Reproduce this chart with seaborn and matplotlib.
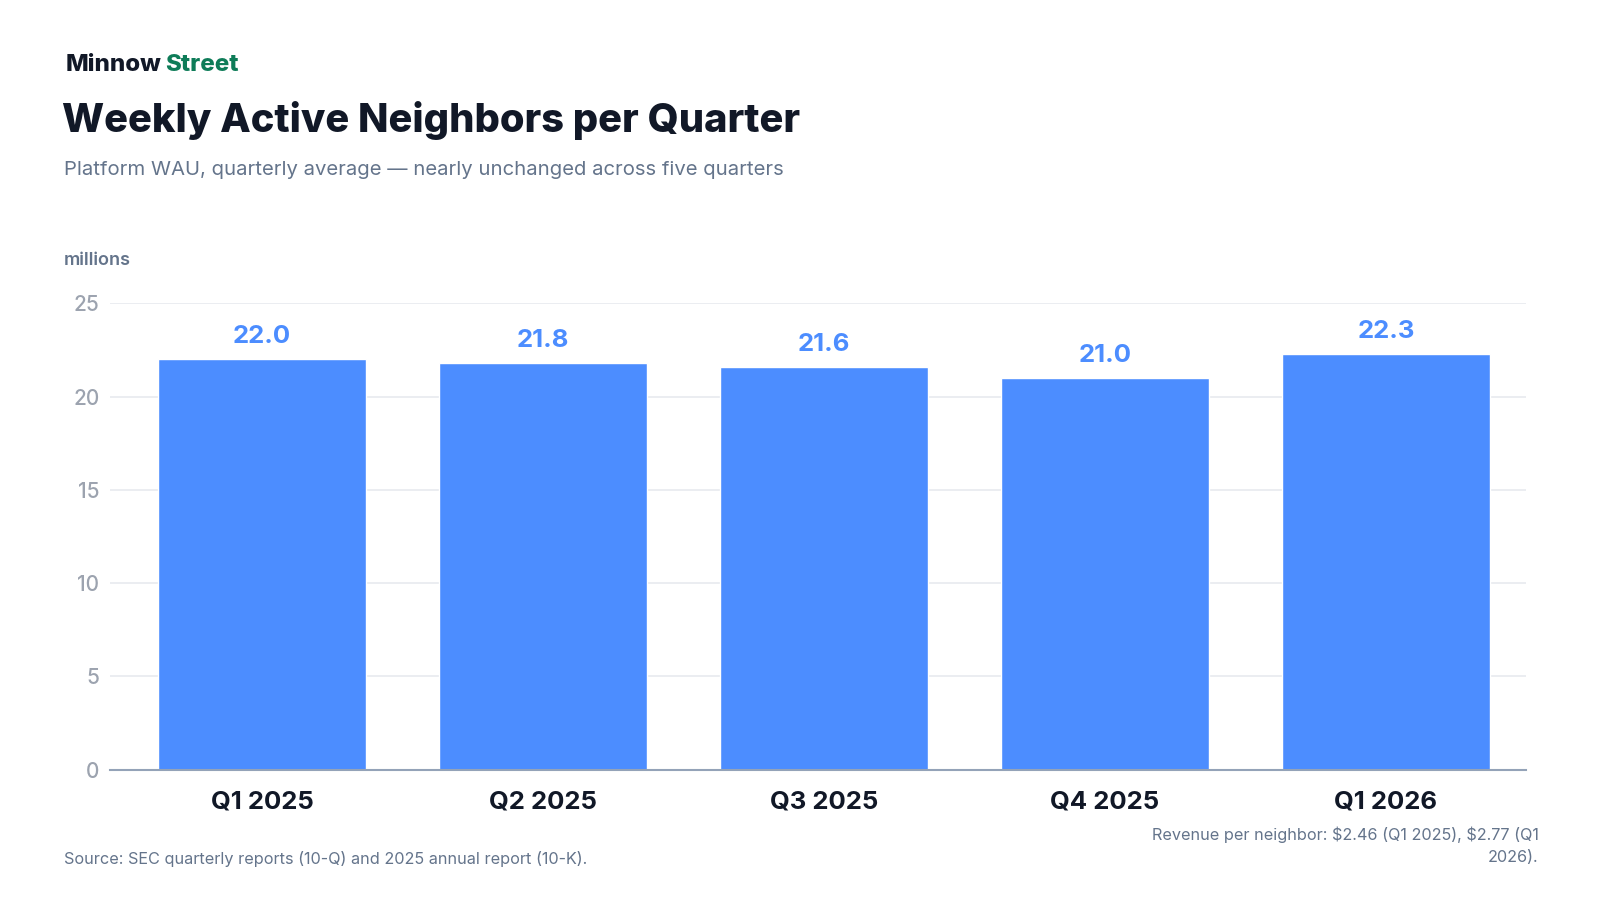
import matplotlib
matplotlib.use("Agg")
import matplotlib.pyplot as plt
import seaborn as sns
import pandas as pd

# data
quarters = ["Q1 2025", "Q2 2025", "Q3 2025", "Q4 2025", "Q1 2026"]
wau_millions = [22.0, 21.8, 21.6, 21.0, 22.3]
y_ticks = [0, 5, 10, 15, 20, 25]

df = pd.DataFrame({"quarter": quarters, "wau": wau_millions})

sns.set_theme(style="white")
plt.rcParams["font.family"] = ["Inter", "DejaVu Sans"]

BLUE = "#4c8dff"
DARK = "#111827"
GRAY = "#64748b"
TICK_GRAY = "#9ca3af"

fig = plt.figure(figsize=(16, 9), dpi=100)
ax = fig.add_axes([0.069, 0.145, 0.885, 0.518])

sns.barplot(data=df, x="quarter", y="wau", color=BLUE, saturation=1,
            width=0.74, ax=ax, zorder=3)

ax.set_ylim(0, 25)
ax.set_xlim(-0.54, 4.5)
ax.set_yticks(y_ticks)
ax.yaxis.grid(True, color="#e8eaef", linewidth=1.2, zorder=0)
ax.set_axisbelow(True)
for side in ["top", "right", "left"]:
    ax.spines[side].set_visible(False)
ax.spines["bottom"].set_color("#94a3b8")
ax.spines["bottom"].set_linewidth(1.5)
ax.spines["bottom"].set_zorder(4)
ax.set_xlabel("")
ax.set_ylabel("")
ax.tick_params(axis="y", length=0, pad=8, labelsize=15, labelcolor=TICK_GRAY)
ax.tick_params(axis="x", length=0, pad=15, labelsize=18.5, labelcolor=DARK)
for lbl in ax.get_xticklabels():
    lbl.set_fontweight("bold")
for lbl in ax.get_yticklabels():
    lbl.set_fontweight("medium")

ax.bar_label(ax.containers[0], fmt="%.1f", padding=8, fontsize=18.5,
             fontweight="bold", color=BLUE)

# header
fig.text(0.041, 0.928, "Minnow", fontsize=17.3, fontweight="heavy", color=DARK,
         va="center")
fig.text(0.1035, 0.928, "Street", fontsize=17.3, fontweight="heavy",
         color="#0e7c58", va="center")
fig.text(0.039, 0.866, "Weekly Active Neighbors per Quarter", fontsize=28.7,
         fontweight="heavy", color=DARK, va="center")
fig.text(0.040, 0.811, "Platform WAU, quarterly average \u2014 nearly unchanged across five quarters",
         fontsize=14.6, color=GRAY, va="center")
fig.text(0.040, 0.711, "millions", fontsize=13, color=GRAY, va="center",
         fontweight="semibold")

# footer
fig.text(0.040, 0.046, "Source: SEC quarterly reports (10-Q) and 2025 annual report (10-K).",
         fontsize=11.7, color=GRAY, va="center")
fig.text(0.9615, 0.060, "Revenue per neighbor: \\$2.46 (Q1 2025), \\$2.77 (Q1\n2026).",
         fontsize=11.7, color=GRAY, ha="right", va="center", linespacing=1.6,
         multialignment="right")

fig.savefig("out.png", dpi=100, facecolor="white")
